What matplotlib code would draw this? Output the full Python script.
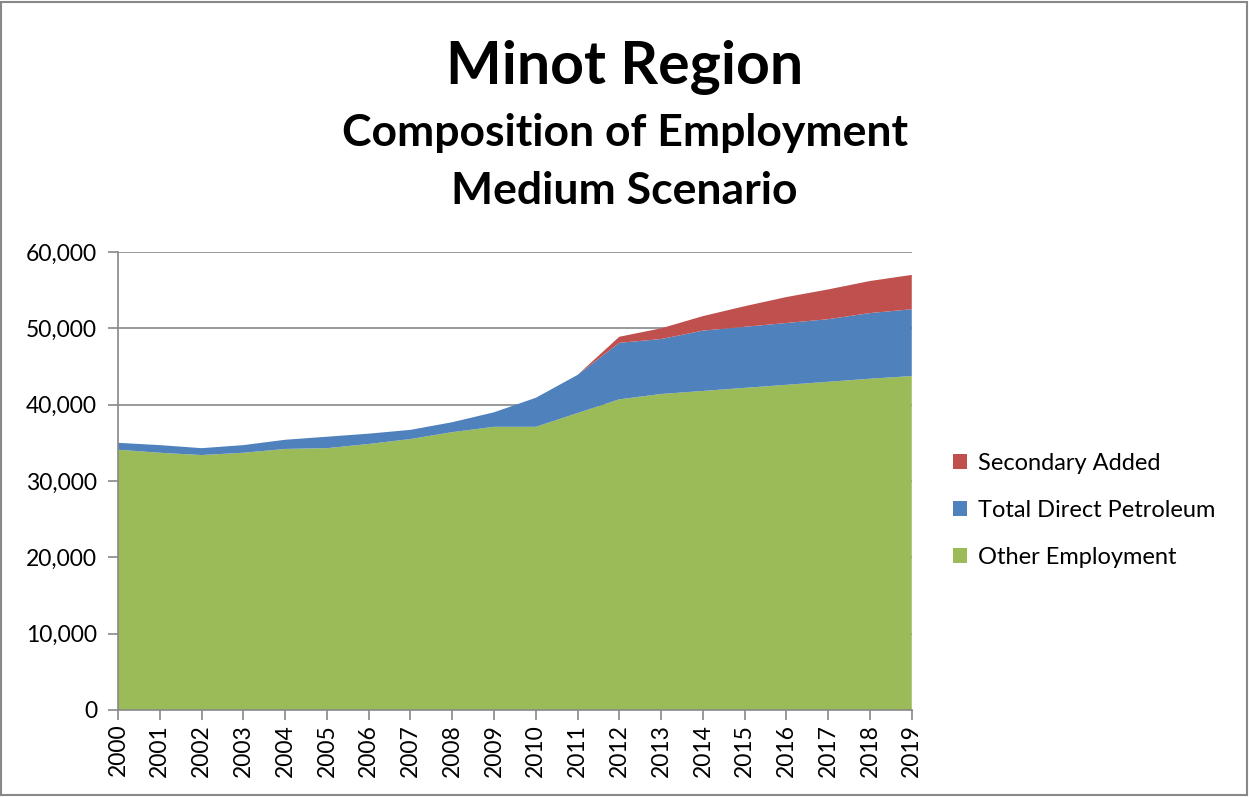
import matplotlib.pyplot as plt
import numpy as np
from matplotlib.patches import Rectangle
from matplotlib.ticker import FuncFormatter

plt.rcParams['font.family'] = ['Lato', 'DejaVu Sans']

years = list(range(2000, 2020))
other = [34100, 33700, 33400, 33700, 34200, 34300, 34850, 35500, 36400, 37100,
         37100, 38900, 40700, 41400, 41800, 42200, 42600, 43000, 43400, 43750]
petroleum = [900, 1000, 900, 1000, 1200, 1500, 1350, 1200, 1300, 1900,
             3800, 5000, 7400, 7200, 7900, 8000, 8100, 8200, 8600, 8750]
secondary = [0, 0, 0, 0, 0, 0, 0, 0, 0, 0,
             0, 0, 800, 1400, 1900, 2700, 3400, 3900, 4200, 4500]

fig = plt.figure(figsize=(12.49, 7.97), dpi=100)
ax = fig.add_axes([0.0945, 0.1092, 0.6355, 0.5746])

x = np.arange(len(years))
polys = ax.stackplot(x, other, petroleum, secondary,
                     colors=['#9BBB59', '#4F81BD', '#C0504D'],
                     labels=['Other Employment', 'Total Direct Petroleum', 'Secondary Added'],
                     zorder=2)

ax.set_xlim(0, len(years) - 1)
ax.set_ylim(0, 60000)
ax.set_yticks(np.arange(0, 60001, 10000))
ax.yaxis.set_major_formatter(FuncFormatter(lambda v, p: f'{int(v):,}'))
ax.set_xticks(x)
ax.set_xticklabels([str(y) for y in years], rotation=90)
ax.tick_params(axis='both', labelsize=16.5, color='#888888', length=7, width=1.2)
ax.tick_params(axis='y', pad=8)
ax.tick_params(axis='x', pad=3)
ax.grid(axis='y', color='#888888', linewidth=1.2, zorder=1)
ax.set_axisbelow(True)
for s in ['top', 'right']:
    ax.spines[s].set_visible(False)
for s in ['left', 'bottom']:
    ax.spines[s].set_color('#888888')
    ax.spines[s].set_linewidth(1.2)

# legend, reversed order like the stack
h, l = ax.get_legend_handles_labels()
fig.legend(h[::-1], l[::-1], loc='center left', bbox_to_anchor=(0.746, 0.36),
           frameon=False, fontsize=17, handlelength=0.6, handleheight=0.6,
           handletextpad=0.45, labelspacing=1.1)

fig.text(0.5, 0.915, 'Minot Region', ha='center', va='center',
         fontsize=42.5, fontweight='bold')
fig.text(0.5, 0.833, 'Composition of Employment', ha='center', va='center',
         fontsize=32, fontweight='bold')
fig.text(0.5, 0.76, 'Medium Scenario', ha='center', va='center',
         fontsize=32, fontweight='bold')

fig.patches.append(Rectangle((0.001, 0.002), 0.997, 0.996, transform=fig.transFigure,
                             fill=False, edgecolor='#888888', linewidth=1.5))

fig.savefig('out.png', dpi=100)
